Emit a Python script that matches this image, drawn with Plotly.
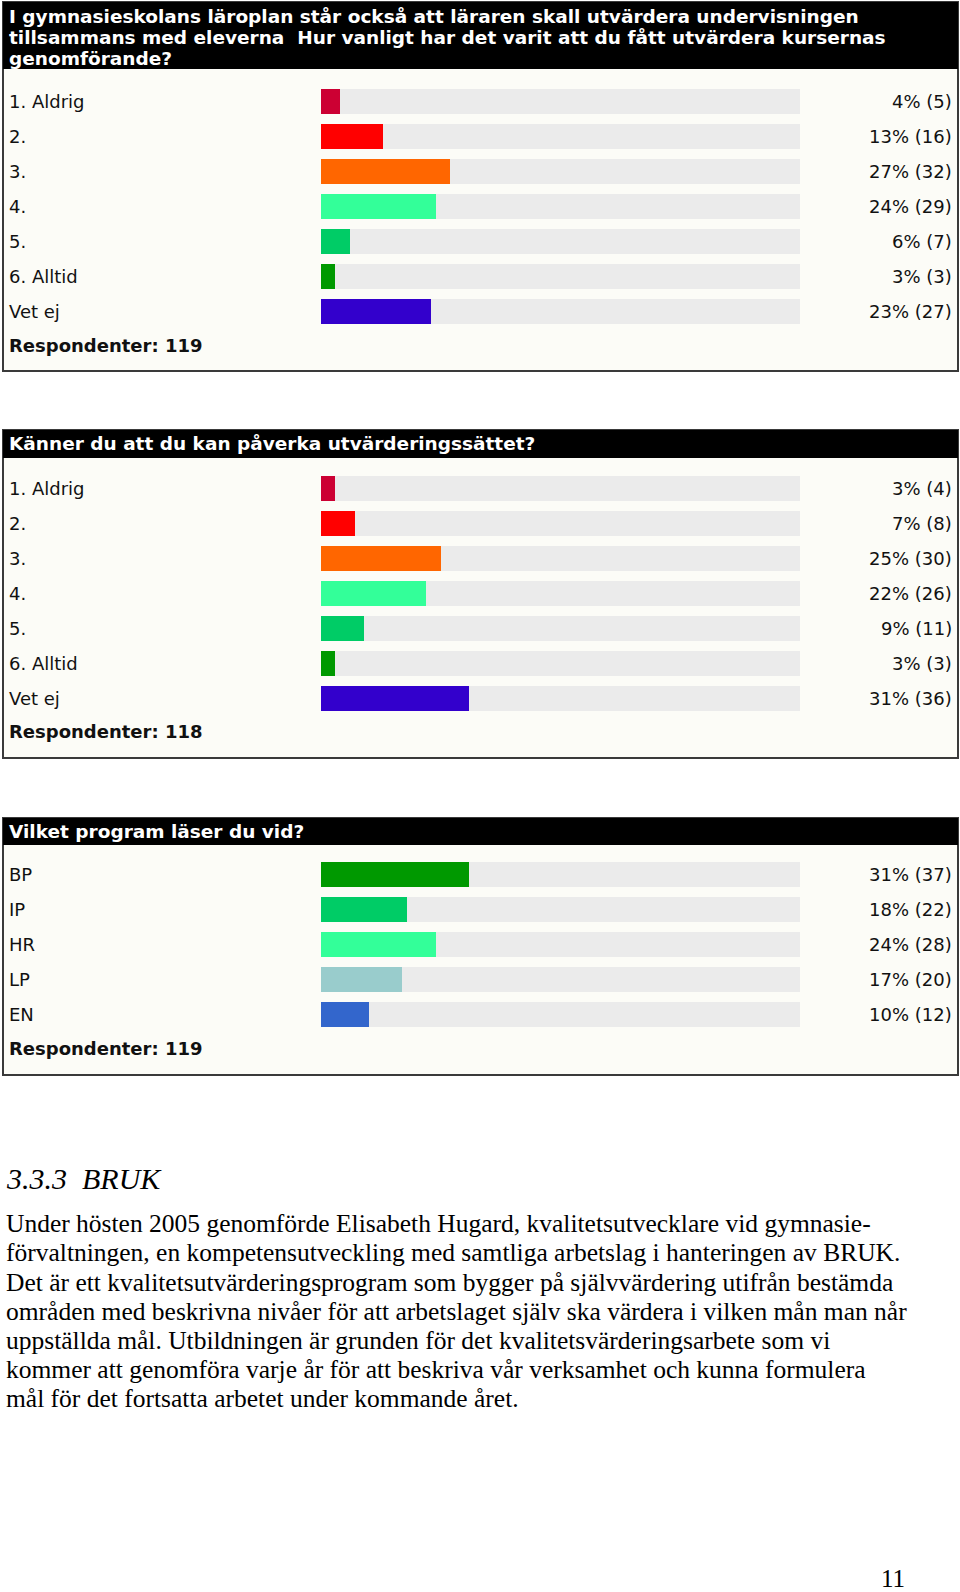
import plotly.graph_objects as go

W, H = 960, 1592

# ---------------- data ----------------
q1_title = ("I gymnasieskolans läroplan står också att läraren skall utvärdera undervisningen<br>"
            "tillsammans med eleverna  Hur vanligt har det varit att du fått utvärdera kursernas<br>"
            "genomförande?")
q1_labels = ["1. Aldrig", "2.", "3.", "4.", "5.", "6. Alltid", "Vet ej"]
q1_pct = [4, 13, 27, 24, 6, 3, 23]
q1_n = [5, 16, 32, 29, 7, 3, 27]
q1_resp = 119

q2_title = "Känner du att du kan påverka utvärderingssättet?"
q2_labels = ["1. Aldrig", "2.", "3.", "4.", "5.", "6. Alltid", "Vet ej"]
q2_pct = [3, 7, 25, 22, 9, 3, 31]
q2_n = [4, 8, 30, 26, 11, 3, 36]
q2_resp = 118

q3_title = "Vilket program läser du vid?"
q3_labels = ["BP", "IP", "HR", "LP", "EN"]
q3_pct = [31, 18, 24, 17, 10]
q3_n = [37, 22, 28, 20, 12]
q3_resp = 119

scale_colors = ["#CC0033", "#FF0000", "#FF6600", "#33FF99", "#00CC66", "#009900", "#3300CC"]
prog_colors = ["#009900", "#00CC66", "#33FF99", "#99CCCC", "#3366CC"]

heading = "3.3.3  BRUK"
body_lines = [
    "Under hösten 2005 genomförde Elisabeth Hugard, kvalitetsutvecklare vid gymnasie-",
    "förvaltningen, en kompetensutveckling med samtliga arbetslag i hanteringen av BRUK.",
    "Det är ett kvalitetsutvärderingsprogram som bygger på självvärdering utifrån bestämda",
    "områden med beskrivna nivåer för att arbetslaget själv ska värdera i vilken mån man når",
    "uppställda mål. Utbildningen är grunden för det kvalitetsvärderingsarbete som vi",
    "kommer att genomföra varje år för att beskriva vår verksamhet och kunna formulera",
    "mål för det fortsatta arbetet under kommande året.",
]
page_no = "11"

# ---------------- helpers ----------------
def fx(x):
    return x / W

def fy(y):
    return 1 - y / H

ROW = 35
BAR_FRAC = 25 / 35
X0, X1 = 321, 800
UI_FONT = "DejaVu Sans, Verdana, sans-serif"

fig = go.Figure()
layout = dict(
    width=W, height=H, margin=dict(l=0, r=0, t=0, b=0),
    paper_bgcolor="white", plot_bgcolor="rgba(0,0,0,0)",
    showlegend=False, barmode="overlay", bargap=0,
)
shapes = []
annotations = []

panels = [
    dict(title=q1_title, labels=q1_labels, pct=q1_pct, n=q1_n, resp=q1_resp, colors=scale_colors,
         box=(2, 371), head=69, rows_top=84, title_y=[16, 37, 58], resp_y=345),
    dict(title=q2_title, labels=q2_labels, pct=q2_pct, n=q2_n, resp=q2_resp, colors=scale_colors,
         box=(430, 758), head=458, rows_top=471, title_y=[444], resp_y=731),
    dict(title=q3_title, labels=q3_labels, pct=q3_pct, n=q3_n, resp=q3_resp, colors=prog_colors,
         box=(818, 1075), head=845, rows_top=857, title_y=[831], resp_y=1048),
]

for i, p in enumerate(panels, start=1):
    xa = "x" if i == 1 else f"x{i}"
    ya = "y" if i == 1 else f"y{i}"
    xkey = "xaxis" if i == 1 else f"xaxis{i}"
    ykey = "yaxis" if i == 1 else f"yaxis{i}"
    nrows = len(p["labels"])
    top = p["rows_top"]
    bottom = top + nrows * ROW
    layout[xkey] = dict(domain=[fx(X0), fx(X1)], range=[0, 100], anchor=ya,
                        showgrid=False, zeroline=False, showticklabels=False, fixedrange=True)
    layout[ykey] = dict(domain=[fy(bottom), fy(top)], range=[nrows - 0.5, -0.5], anchor=xa,
                        type="linear", showgrid=False, zeroline=False, showticklabels=False,
                        fixedrange=True)
    idx = list(range(nrows))
    # background track
    fig.add_trace(go.Bar(x=[100] * nrows, y=idx, orientation="h", width=BAR_FRAC,
                         marker=dict(color="#EBEBEB", line=dict(width=0)),
                         xaxis=xa, yaxis=ya, hoverinfo="skip"))
    # values
    fig.add_trace(go.Bar(x=p["pct"], y=idx, orientation="h", width=BAR_FRAC,
                         marker=dict(color=p["colors"], line=dict(width=0)),
                         xaxis=xa, yaxis=ya))
    # panel background + border
    y0, y1 = p["box"]
    shapes.append(dict(type="rect", xref="paper", yref="paper", layer="below",
                       x0=fx(3), x1=fx(958), y0=fy(y1), y1=fy(y0),
                       fillcolor="#FCFCF7", line=dict(color="#3a3a3a", width=2)))
    shapes.append(dict(type="rect", xref="paper", yref="paper", layer="below",
                       x0=fx(3), x1=fx(958), y0=fy(p["head"]), y1=fy(y0),
                       fillcolor="#000000", line=dict(color="#000000", width=0)))
    # title lines
    for line, ty in zip(p["title"].split("<br>"), p["title_y"]):
        annotations.append(dict(text=line, xref="paper", yref="paper", x=fx(7), y=fy(ty),
                                xanchor="left", yanchor="middle", showarrow=False,
                                font=dict(family=UI_FONT, size=18.5, color="white", weight="bold")))
    # category labels & values
    for k in idx:
        annotations.append(dict(text=p["labels"][k], xref="paper", yref=ya, x=fx(7), y=k,
                                xanchor="left", yanchor="middle", showarrow=False,
                                font=dict(family=UI_FONT, size=18, color="#111111")))
        annotations.append(dict(text=f"{p['pct'][k]}% ({p['n'][k]})", xref="paper", yref=ya,
                                x=fx(954), y=k, xanchor="right", yanchor="middle", showarrow=False,
                                font=dict(family=UI_FONT, size=18, color="#111111")))
    annotations.append(dict(text=f"Respondenter: {p['resp']}", xref="paper", yref="paper",
                            x=fx(7), y=fy(p["resp_y"]), xanchor="left", yanchor="middle",
                            showarrow=False,
                            font=dict(family=UI_FONT, size=18, color="#111111", weight="bold")))

# ---------------- text section ----------------
SERIF = "Liberation Serif, Times New Roman, serif"
annotations.append(dict(text=heading, xref="paper", yref="paper", x=fx(4), y=fy(1178),
                        xanchor="left", yanchor="middle", showarrow=False,
                        font=dict(family=SERIF, size=30, color="black", style="italic")))
line_y = [1223, 1252, 1282, 1311, 1340, 1369, 1398]
for txt, ly in zip(body_lines, line_y):
    annotations.append(dict(text=txt, xref="paper", yref="paper", x=fx(4), y=fy(ly),
                            xanchor="left", yanchor="middle", showarrow=False,
                            font=dict(family=SERIF, size=25.5, color="black")))
annotations.append(dict(text=page_no, xref="paper", yref="paper", x=fx(893), y=fy(1578),
                        xanchor="center", yanchor="middle", showarrow=False,
                        font=dict(family=SERIF, size=25, color="black")))

layout["shapes"] = shapes
layout["annotations"] = annotations
fig.update_layout(**layout)
fig.write_html(
    "out.html",
    config={"displayModeBar": False},
    post_script="document.body.style.margin='0';document.body.style.padding='0';"
                "document.body.style.overflow='hidden';",
)
